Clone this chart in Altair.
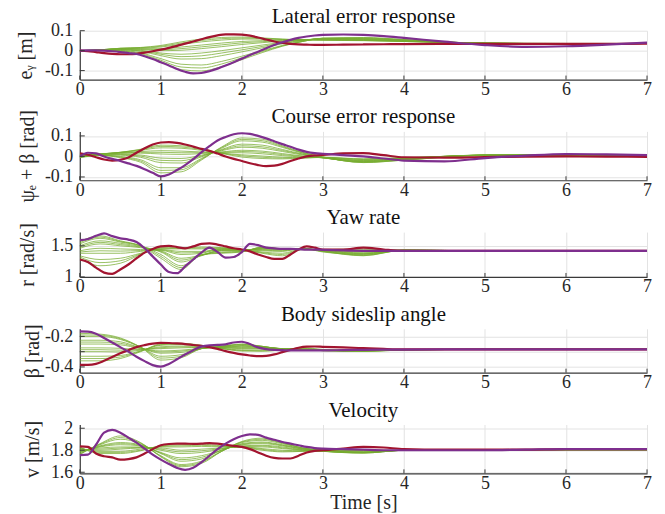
import altair as alt
import pandas as pd

# ---------------- data ----------------
T_FINE = [0.0, 0.1, 0.2, 0.3, 0.4, 0.5, 0.6, 0.7, 0.8, 0.9,
          1.0, 1.1, 1.2, 1.3, 1.4, 1.5, 1.6, 1.7, 1.8, 1.9,
          2.0, 2.1, 2.2, 2.3, 2.4, 2.5, 2.6, 2.7, 2.8, 2.9,
          3.0,
          3.25, 3.5, 3.75, 4.0, 4.5, 5.0, 5.5, 6.0, 6.5, 7.0]
T_GREEN = [0, 0.25, 0.5, 0.75, 1, 1.25, 1.5, 1.75, 2, 2.25, 2.5, 2.75, 3, 3.5, 4, 5, 6, 7]

TITLES = ["Lateral error response", "Course error response", "Yaw rate",
          "Body sideslip angle", "Velocity"]
Y_TITLES = ["eᵧ [m]", "ψₑ + β [rad]", "r [rad/s]", "β [rad]", "v [m/s]"]
X_TITLE = "Time [s]"
X_TICKS = [0, 1, 2, 3, 4, 5, 6, 7]

# Lateral error e_y [m]
EY_RED = [0, -0.002, -0.007, -0.012, -0.016, -0.018, -0.018, -0.016, -0.01, -0.003,
          0.005, 0.014, 0.024, 0.035, 0.046, 0.057, 0.068, 0.077, 0.082, 0.082,
          0.08, 0.075, 0.066, 0.056, 0.046, 0.039, 0.034, 0.031, 0.03, 0.029,
          0.029,
          0.03, 0.031, 0.032, 0.033, 0.034, 0.034, 0.034, 0.034, 0.034, 0.035]
EY_PUR = [0, 0.001, 0.001, 0.0, -0.003, -0.007, -0.012, -0.017, -0.028, -0.042,
          -0.058, -0.074, -0.092, -0.106, -0.114, -0.112, -0.103, -0.09, -0.075, -0.058,
          -0.04, -0.022, -0.005, 0.012, 0.028, 0.042, 0.054, 0.064, 0.071, 0.076,
          0.079,
          0.081, 0.079, 0.073, 0.064, 0.045, 0.028, 0.019, 0.022, 0.03, 0.04]
EY_GREEN = [
    [0, 0.004, 0.012, 0.016, 0.026, 0.044, 0.058, 0.066, 0.068, 0.064, 0.058, 0.054, 0.052, 0.05, 0.046, 0.038, 0.036, 0.036],
    [0, 0.004, 0.012, 0.015, 0.022, 0.038, 0.051, 0.060, 0.063, 0.061, 0.057, 0.054, 0.053, 0.051, 0.046, 0.038, 0.036, 0.036],
    [0, 0.004, 0.011, 0.013, 0.018, 0.032, 0.044, 0.053, 0.058, 0.058, 0.056, 0.055, 0.054, 0.052, 0.047, 0.038, 0.036, 0.036],
    [0, 0.003, 0.010, 0.010, 0.010, 0.018, 0.028, 0.038, 0.046, 0.050, 0.053, 0.055, 0.056, 0.054, 0.048, 0.038, 0.035, 0.036],
    [0, 0.003, 0.009, 0.008, 0.005, 0.010, 0.019, 0.029, 0.039, 0.045, 0.050, 0.054, 0.057, 0.055, 0.048, 0.038, 0.035, 0.036],
    [0, 0.003, 0.008, 0.006, 0.000, 0.002, 0.010, 0.020, 0.031, 0.040, 0.048, 0.054, 0.058, 0.056, 0.049, 0.038, 0.035, 0.036],
    [0, 0.002, 0.006, 0.002, -0.012, -0.018, -0.012, 0.000, 0.014, 0.028, 0.042, 0.053, 0.060, 0.058, 0.050, 0.037, 0.034, 0.036],
    [0, 0.002, 0.005, -0.001, -0.018, -0.030, -0.026, -0.012, 0.004, 0.021, 0.038, 0.051, 0.061, 0.060, 0.051, 0.037, 0.034, 0.036],
    [0, 0.002, 0.004, -0.004, -0.025, -0.042, -0.040, -0.025, -0.006, 0.014, 0.034, 0.050, 0.062, 0.061, 0.052, 0.036, 0.033, 0.036],
    [0, 0.001, 0.001, -0.011, -0.040, -0.068, -0.072, -0.054, -0.028, 0.000, 0.026, 0.047, 0.062, 0.063, 0.054, 0.036, 0.032, 0.036],
    [0, 0.001, -0.001, -0.015, -0.048, -0.082, -0.087, -0.067, -0.036, -0.005, 0.024, 0.046, 0.062, 0.064, 0.055, 0.036, 0.032, 0.036],
    [0, 0.000, -0.003, -0.020, -0.055, -0.095, -0.102, -0.080, -0.045, -0.010, 0.022, 0.046, 0.062, 0.066, 0.056, 0.036, 0.031, 0.036],
]

# Course error psi_e + beta [rad]
CE_RED = [0.015, 0.008, -0.004, -0.015, -0.02, -0.016, -0.005, 0.018, 0.04, 0.058,
          0.068, 0.07, 0.066, 0.058, 0.048, 0.037, 0.027, 0.014, 0.0, -0.012,
          -0.022, -0.033, -0.042, -0.047, -0.045, -0.036, -0.022, -0.01, 0.0, 0.005,
          0.007,
          0.015, 0.016, 0.006, -0.004, -0.006, -0.003, -0.001, 0.0, -0.001, -0.002]
CE_PUR = [0.0, 0.018, 0.015, 0.0, -0.012, -0.022, -0.034, -0.046, -0.062, -0.08,
          -0.097, -0.088, -0.066, -0.042, -0.013, 0.02, 0.05, 0.078, 0.095, 0.108,
          0.113, 0.11, 0.1, 0.088, 0.074, 0.06, 0.047, 0.033, 0.022, 0.016,
          0.013,
          0.006, 0.0, -0.01, -0.02, -0.024, -0.008, 0.004, 0.012, 0.01, 0.006]
CE_GREEN = [
    [0.008, 0.012, 0.020, 0.035, 0.055, 0.052, 0.038, 0.015, -0.003, -0.010, -0.012, -0.008, -0.004, -0.012, -0.006, 0.004, 0.004, 0.002],
    [0.007, 0.012, 0.020, 0.033, 0.049, 0.046, 0.034, 0.016, 0.003, -0.004, -0.008, -0.007, -0.005, -0.013, -0.007, 0.005, 0.005, 0.002],
    [0.006, 0.012, 0.020, 0.030, 0.042, 0.040, 0.030, 0.016, 0.008, 0.002, -0.004, -0.006, -0.005, -0.015, -0.008, 0.005, 0.005, 0.002],
    [0.004, 0.012, 0.018, 0.024, 0.028, 0.026, 0.022, 0.018, 0.018, 0.013, 0.004, -0.003, -0.006, -0.018, -0.009, 0.006, 0.006, 0.003],
    [0.003, 0.011, 0.017, 0.020, 0.020, 0.018, 0.018, 0.020, 0.024, 0.020, 0.009, 0.000, -0.006, -0.020, -0.010, 0.006, 0.006, 0.003],
    [0.002, 0.010, 0.015, 0.016, 0.012, 0.010, 0.014, 0.022, 0.030, 0.026, 0.014, 0.002, -0.007, -0.021, -0.011, 0.006, 0.006, 0.003],
    [0.000, 0.008, 0.011, 0.007, -0.008, -0.010, 0.006, 0.028, 0.045, 0.040, 0.024, 0.007, -0.007, -0.024, -0.013, 0.007, 0.007, 0.004],
    [-0.001, 0.008, 0.009, 0.002, -0.019, -0.021, 0.002, 0.031, 0.052, 0.047, 0.029, 0.010, -0.006, -0.025, -0.014, 0.007, 0.007, 0.004],
    [-0.002, 0.007, 0.006, -0.004, -0.030, -0.032, -0.002, 0.034, 0.060, 0.055, 0.034, 0.012, -0.006, -0.026, -0.015, 0.007, 0.008, 0.004],
    [-0.004, 0.006, 0.000, -0.016, -0.055, -0.055, -0.010, 0.040, 0.076, 0.070, 0.044, 0.016, -0.004, -0.028, -0.017, 0.007, 0.008, 0.004],
    [-0.005, 0.006, -0.003, -0.022, -0.068, -0.065, -0.014, 0.043, 0.083, 0.077, 0.048, 0.018, -0.003, -0.029, -0.018, 0.007, 0.009, 0.005],
    [-0.006, 0.005, -0.006, -0.028, -0.080, -0.075, -0.018, 0.046, 0.090, 0.084, 0.052, 0.020, -0.002, -0.030, -0.018, 0.007, 0.009, 0.005],
]

# Yaw rate r [rad/s]
YR_RED = [1.28, 1.24, 1.15, 1.07, 1.05, 1.12, 1.2, 1.3, 1.39, 1.45,
          1.49, 1.5, 1.48, 1.46, 1.49, 1.53, 1.54, 1.52, 1.49, 1.46,
          1.44, 1.41, 1.36, 1.32, 1.29, 1.29, 1.36, 1.44, 1.49, 1.47,
          1.44,
          1.44, 1.47, 1.44, 1.42, 1.42, 1.42, 1.42, 1.42, 1.42, 1.42]
YR_PUR = [1.59, 1.61, 1.66, 1.70, 1.655, 1.62, 1.6, 1.56, 1.46, 1.33,
          1.2, 1.08, 1.06, 1.17, 1.28, 1.39, 1.47, 1.4, 1.31, 1.32,
          1.4, 1.53, 1.51, 1.47, 1.46, 1.45, 1.45, 1.445, 1.44, 1.44,
          1.435,
          1.425, 1.42, 1.42, 1.42, 1.42, 1.42, 1.42, 1.42, 1.42, 1.42]
YR_GREEN = [
    [1.57, 1.66, 1.58, 1.50, 1.30, 1.12, 1.36, 1.38, 1.40, 1.48, 1.45, 1.44, 1.43, 1.40, 1.42, 1.42, 1.42, 1.42],
    [1.55, 1.64, 1.57, 1.50, 1.33, 1.15, 1.355, 1.39, 1.405, 1.475, 1.45, 1.445, 1.43, 1.385, 1.425, 1.42, 1.42, 1.42],
    [1.53, 1.62, 1.56, 1.50, 1.36, 1.18, 1.35, 1.40, 1.41, 1.47, 1.45, 1.45, 1.43, 1.37, 1.43, 1.42, 1.42, 1.42],
    [1.50, 1.58, 1.54, 1.49, 1.40, 1.24, 1.34, 1.42, 1.42, 1.46, 1.45, 1.45, 1.42, 1.35, 1.43, 1.42, 1.42, 1.42],
    [1.48, 1.555, 1.52, 1.48, 1.41, 1.27, 1.345, 1.425, 1.425, 1.455, 1.445, 1.455, 1.415, 1.345, 1.43, 1.42, 1.42, 1.42],
    [1.46, 1.53, 1.50, 1.47, 1.42, 1.30, 1.35, 1.43, 1.43, 1.45, 1.44, 1.46, 1.41, 1.34, 1.43, 1.42, 1.42, 1.42],
    [1.42, 1.46, 1.45, 1.44, 1.43, 1.36, 1.38, 1.44, 1.44, 1.44, 1.43, 1.46, 1.40, 1.36, 1.43, 1.42, 1.42, 1.42],
    [1.40, 1.42, 1.415, 1.425, 1.435, 1.385, 1.395, 1.445, 1.44, 1.43, 1.42, 1.46, 1.41, 1.37, 1.43, 1.42, 1.42, 1.42],
    [1.38, 1.38, 1.38, 1.41, 1.44, 1.41, 1.41, 1.45, 1.44, 1.42, 1.41, 1.46, 1.42, 1.38, 1.43, 1.42, 1.42, 1.42],
    [1.34, 1.28, 1.30, 1.38, 1.45, 1.45, 1.45, 1.46, 1.44, 1.40, 1.38, 1.45, 1.43, 1.42, 1.43, 1.42, 1.42, 1.42],
    [1.32, 1.23, 1.26, 1.37, 1.46, 1.46, 1.465, 1.465, 1.44, 1.39, 1.36, 1.445, 1.435, 1.435, 1.43, 1.42, 1.42, 1.42],
    [1.30, 1.18, 1.22, 1.36, 1.47, 1.47, 1.48, 1.47, 1.44, 1.38, 1.34, 1.44, 1.44, 1.45, 1.43, 1.42, 1.42, 1.42],
]

# Body sideslip angle beta [rad]
BS_RED = [-0.386, -0.386, -0.38, -0.36, -0.335, -0.31, -0.29, -0.27, -0.257, -0.247,
          -0.242, -0.243, -0.246, -0.25, -0.256, -0.262, -0.27, -0.282, -0.296, -0.308,
          -0.318, -0.325, -0.329, -0.327, -0.318, -0.303, -0.288, -0.274, -0.267, -0.266,
          -0.268,
          -0.272, -0.277, -0.282, -0.285, -0.285, -0.285, -0.285, -0.285, -0.285, -0.285]
BS_PUR = [-0.167, -0.168, -0.182, -0.21, -0.24, -0.27, -0.3, -0.333, -0.362, -0.388,
          -0.398, -0.38, -0.35, -0.318, -0.29, -0.267, -0.258, -0.256, -0.252, -0.24,
          -0.235, -0.25, -0.272, -0.283, -0.288, -0.29, -0.292, -0.292, -0.292, -0.292,
          -0.292,
          -0.29, -0.288, -0.287, -0.286, -0.285, -0.285, -0.285, -0.285, -0.285, -0.285]
BS_GREEN = [
    [-0.180, -0.185, -0.210, -0.270, -0.355, -0.340, -0.280, -0.265, -0.250, -0.265, -0.285, -0.290, -0.290, -0.290, -0.286, -0.285, -0.285, -0.285],
    [-0.190, -0.192, -0.215, -0.270, -0.342, -0.330, -0.280, -0.265, -0.252, -0.265, -0.284, -0.290, -0.290, -0.290, -0.286, -0.285, -0.285, -0.285],
    [-0.200, -0.200, -0.220, -0.270, -0.330, -0.320, -0.280, -0.265, -0.255, -0.265, -0.283, -0.290, -0.290, -0.290, -0.286, -0.285, -0.285, -0.285],
    [-0.225, -0.225, -0.235, -0.275, -0.310, -0.305, -0.280, -0.268, -0.260, -0.267, -0.282, -0.290, -0.290, -0.292, -0.286, -0.285, -0.285, -0.285],
    [-0.237, -0.237, -0.245, -0.277, -0.302, -0.297, -0.279, -0.269, -0.262, -0.268, -0.281, -0.289, -0.291, -0.293, -0.286, -0.285, -0.285, -0.285],
    [-0.250, -0.250, -0.255, -0.280, -0.295, -0.290, -0.278, -0.270, -0.265, -0.270, -0.280, -0.288, -0.292, -0.294, -0.287, -0.285, -0.285, -0.285],
    [-0.275, -0.275, -0.278, -0.285, -0.280, -0.275, -0.272, -0.272, -0.272, -0.275, -0.280, -0.286, -0.293, -0.296, -0.288, -0.285, -0.285, -0.285],
    [-0.287, -0.287, -0.290, -0.287, -0.274, -0.269, -0.270, -0.273, -0.276, -0.277, -0.280, -0.285, -0.293, -0.297, -0.288, -0.285, -0.285, -0.285],
    [-0.300, -0.300, -0.302, -0.290, -0.268, -0.263, -0.267, -0.275, -0.280, -0.280, -0.280, -0.284, -0.294, -0.298, -0.289, -0.285, -0.285, -0.285],
    [-0.330, -0.330, -0.325, -0.295, -0.258, -0.253, -0.262, -0.278, -0.288, -0.288, -0.283, -0.280, -0.290, -0.298, -0.289, -0.285, -0.285, -0.285],
    [-0.345, -0.345, -0.335, -0.297, -0.254, -0.249, -0.260, -0.279, -0.292, -0.293, -0.285, -0.278, -0.288, -0.297, -0.288, -0.285, -0.285, -0.285],
    [-0.360, -0.360, -0.345, -0.300, -0.250, -0.245, -0.258, -0.280, -0.296, -0.298, -0.288, -0.275, -0.285, -0.296, -0.288, -0.285, -0.285, -0.285],
]

# Velocity v [m/s]
VE_RED = [1.835, 1.83, 1.77, 1.745, 1.735, 1.715, 1.72, 1.735, 1.77, 1.81,
          1.845, 1.857, 1.86, 1.86, 1.858, 1.86, 1.865, 1.86, 1.85, 1.84,
          1.83, 1.81, 1.78, 1.75, 1.73, 1.725, 1.725, 1.75, 1.78, 1.795,
          1.8,
          1.815, 1.83, 1.825, 1.81, 1.805, 1.805, 1.805, 1.81, 1.81, 1.81]
VE_PUR = [1.755, 1.76, 1.85, 1.96, 1.985, 1.96, 1.915, 1.87, 1.815, 1.76,
          1.715, 1.675, 1.64, 1.622, 1.64, 1.69, 1.75, 1.81, 1.86, 1.9,
          1.93, 1.945, 1.94, 1.915, 1.895, 1.875, 1.86, 1.845, 1.83, 1.82,
          1.815,
          1.81, 1.805, 1.8, 1.8, 1.8, 1.8, 1.805, 1.81, 1.81, 1.81]
VE_GREEN = [
    [1.76, 1.86, 1.93, 1.87, 1.74, 1.65, 1.68, 1.79, 1.88, 1.91, 1.87, 1.82, 1.80, 1.78, 1.80, 1.805, 1.805, 1.805],
    [1.765, 1.855, 1.915, 1.865, 1.745, 1.66, 1.69, 1.79, 1.875, 1.90, 1.865, 1.82, 1.80, 1.78, 1.80, 1.805, 1.805, 1.805],
    [1.77, 1.85, 1.90, 1.86, 1.75, 1.67, 1.70, 1.79, 1.87, 1.89, 1.86, 1.82, 1.80, 1.78, 1.80, 1.805, 1.805, 1.805],
    [1.78, 1.84, 1.87, 1.85, 1.77, 1.70, 1.72, 1.80, 1.86, 1.875, 1.85, 1.815, 1.795, 1.775, 1.80, 1.805, 1.805, 1.805],
    [1.785, 1.835, 1.86, 1.845, 1.775, 1.715, 1.735, 1.80, 1.855, 1.868, 1.845, 1.812, 1.792, 1.775, 1.80, 1.805, 1.805, 1.805],
    [1.79, 1.83, 1.85, 1.84, 1.78, 1.73, 1.75, 1.80, 1.85, 1.86, 1.84, 1.81, 1.79, 1.775, 1.80, 1.805, 1.805, 1.805],
    [1.80, 1.82, 1.83, 1.83, 1.80, 1.77, 1.78, 1.81, 1.84, 1.845, 1.83, 1.805, 1.79, 1.78, 1.80, 1.805, 1.805, 1.805],
    [1.805, 1.81, 1.82, 1.825, 1.81, 1.785, 1.795, 1.815, 1.835, 1.838, 1.822, 1.802, 1.79, 1.782, 1.80, 1.805, 1.805, 1.805],
    [1.81, 1.80, 1.81, 1.82, 1.82, 1.80, 1.81, 1.82, 1.83, 1.83, 1.815, 1.80, 1.79, 1.785, 1.80, 1.805, 1.805, 1.805],
    [1.82, 1.79, 1.79, 1.81, 1.83, 1.83, 1.835, 1.83, 1.83, 1.815, 1.80, 1.795, 1.795, 1.79, 1.80, 1.805, 1.805, 1.805],
    [1.825, 1.78, 1.78, 1.80, 1.835, 1.84, 1.845, 1.835, 1.828, 1.808, 1.792, 1.792, 1.798, 1.795, 1.80, 1.805, 1.805, 1.805],
    [1.83, 1.77, 1.77, 1.795, 1.84, 1.85, 1.855, 1.84, 1.825, 1.80, 1.785, 1.79, 1.80, 1.80, 1.80, 1.805, 1.805, 1.805],
]

# ---------------- styling ----------------
GREEN = "#77AC30"
RED = "#A2142F"
PURPLE = "#7E2F8E"
AX = "#3a3a3a"
FONT = "Liberation Serif"
W = 569


def panel(title, ytitle, red, pur, greens, dom, yticks, tx, h, xtitle=False):
    gdf = pd.concat([pd.DataFrame({"t": T_GREEN, "v": g, "s": f"g{i}"})
                     for i, g in enumerate(greens)], ignore_index=True)
    rdf = pd.DataFrame({"t": T_FINE, "v": red})
    pdf = pd.DataFrame({"t": T_FINE, "v": pur})
    xt = pd.DataFrame({"t": X_TICKS})
    yt = pd.DataFrame({"v": yticks})
    tdf = pd.DataFrame({"label": [title]})

    if xtitle:
        xaxis = alt.Axis(values=X_TICKS, title=X_TITLE, labelExpr="toString(datum.value)")
    else:
        xaxis = alt.Axis(values=X_TICKS, title=None, labelExpr="toString(datum.value)")
    x = alt.X("t:Q", scale=alt.Scale(domain=[0, 7], nice=False, zero=False), axis=xaxis)
    yaxis = alt.Axis(values=yticks, title=ytitle, labelExpr="toString(datum.value)",
                     titleX=tx, titleY=h / 2, titleAngle=270,
                     titleAlign="center", titleBaseline="middle")
    y = alt.Y("v:Q", scale=alt.Scale(domain=dom, nice=False, zero=False), axis=yaxis)

    greenl = alt.Chart(gdf).mark_line(color=GREEN, strokeWidth=0.75, interpolate="monotone", clip=True) \
        .encode(x=x, y=y, detail="s:N")
    redl = alt.Chart(rdf).mark_line(color=RED, strokeWidth=2.2, interpolate="monotone", clip=True) \
        .encode(x=x, y=y)
    purl = alt.Chart(pdf).mark_line(color=PURPLE, strokeWidth=2.2, interpolate="monotone", clip=True) \
        .encode(x=x, y=y)
    xtick = alt.Chart(xt).mark_rule(color=AX, strokeWidth=1) \
        .encode(x=x, y=alt.value(h), y2=alt.value(h - 4))
    ytick = alt.Chart(yt).mark_rule(color=AX, strokeWidth=1) \
        .encode(y=y, x=alt.value(0), x2=alt.value(5))
    ttl = alt.Chart(tdf).mark_text(font=FONT, fontSize=21, color="#111111",
                                   align="center", baseline="alphabetic") \
        .encode(text="label:N", x=alt.value(W / 2), y=alt.value(-8))
    return alt.layer(greenl, redl, purl, xtick, ytick, ttl).properties(width=W, height=h)


p1 = panel(TITLES[0], Y_TITLES[0], EY_RED, EY_PUR, EY_GREEN,
           [-0.145, 0.1], [-0.1, 0, 0.1], -54, 49)
p2 = panel(TITLES[1], Y_TITLES[1], CE_RED, CE_PUR, CE_GREEN,
           [-0.116, 0.122], [-0.1, 0, 0.1], -52, 49)
p3 = panel(TITLES[2], Y_TITLES[2], YR_RED, YR_PUR, YR_GREEN,
           [1.0, 1.72], [1, 1.5], -52, 45)
p4 = panel(TITLES[3], Y_TITLES[3], BS_RED, BS_PUR, BS_GREEN,
           [-0.4375, -0.15], [-0.4, -0.3, -0.2], -47, 44)
p5 = panel(TITLES[4], Y_TITLES[4], VE_RED, VE_PUR, VE_GREEN,
           [1.59, 2.034], [1.6, 1.8, 2], -47, 49, xtitle=True)

chart = alt.vconcat(p1, p2, p3, p4, p5, spacing=52, bounds="flush").properties(
    padding={"left": 8, "top": -3, "right": 5, "bottom": 2}
).configure_view(stroke=None).configure_axis(
    labelFont=FONT, labelFontSize=18, labelColor="#262626",
    titleFont=FONT, titleFontSize=20, titleFontWeight="normal", titleColor="#262626",
    domainColor=AX, domainWidth=1.2, ticks=False,
    gridColor="#e3e3e3", gridWidth=1,
    labelPadding=7,
).configure_axisX(labelPadding=1, titlePadding=0, labelFlush=False)

chart.save("out.html", embed_options={"renderer": "svg", "actions": False})
